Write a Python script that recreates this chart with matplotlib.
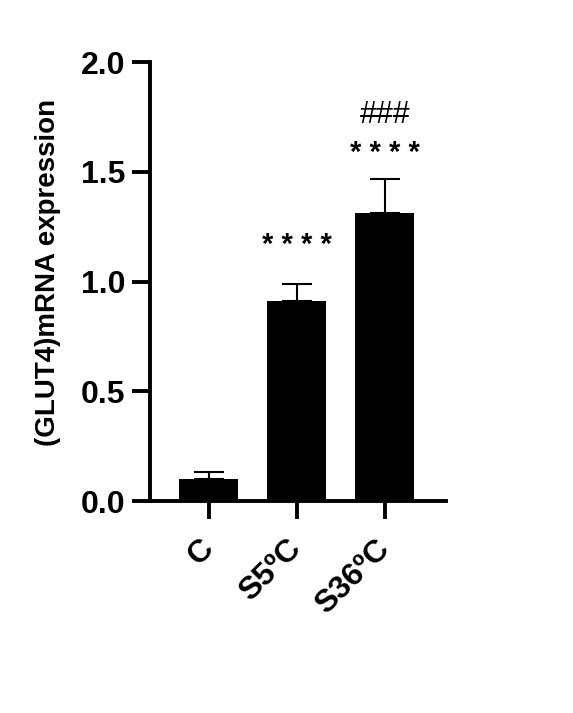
import numpy as np
import matplotlib
matplotlib.use("Agg")
import matplotlib.pyplot as plt

plt.rcParams["font.family"] = ["Liberation Sans", "DejaVu Sans"]

groups = ["C", "S5ºC", "S36ºC"]
means = [0.10, 0.91, 1.31]
errs = [0.03, 0.08, 0.155]
stars = ["", "* * * *", "* * * *"]
star_y = [0.0, 1.21, 1.63]
hashes = ["", "", "###"]
hash_y = [0.0, 0.0, 1.76]

fig = plt.figure(figsize=(5.73, 7.13), dpi=100)
ax = fig.add_axes([0.2618, 0.2973, 0.5160, 0.6157])

x = np.arange(len(groups))
ax.bar(x, means, width=0.67, color="black", zorder=2)
ax.errorbar(x, means, yerr=[np.zeros(len(errs)), errs], fmt="none",
            ecolor="black", elinewidth=1.5, capsize=10.5, capthick=1.5, zorder=1)

for i in range(len(groups)):
    if stars[i]:
        # asterisks sit high in the em box, so nudge the anchor down
        ax.text(x[i], star_y[i] - 0.045, stars[i], ha="center", va="center",
                fontsize=21, fontweight="bold")
    if hashes[i]:
        ax.text(x[i], hash_y[i], hashes[i], ha="center", va="center", fontsize=22)

ax.set_xlim(-0.67, 2.69)
ax.set_ylim(0, 2.0)
ax.set_yticks([0.0, 0.5, 1.0, 1.5, 2.0])
ax.set_yticklabels(["0.0", "0.5", "1.0", "1.5", "2.0"])
ax.set_xticks(x)
ax.set_xticklabels(groups, rotation=45, ha="right", va="center", rotation_mode="anchor")

for lab in ax.get_xticklabels() + ax.get_yticklabels():
    lab.set_fontweight("bold")
    lab.set_fontsize(23)

ax.spines["top"].set_visible(False)
ax.spines["right"].set_visible(False)
ax.spines["left"].set_linewidth(2.8)
ax.spines["bottom"].set_linewidth(2.8)
ax.tick_params(axis="both", width=2.8, length=13, color="black")
ax.tick_params(axis="x", pad=18)
ax.tick_params(axis="y", pad=5)

ax.set_ylabel("(GLUT4)mRNA expression", fontsize=20, fontweight="bold")
ax.yaxis.set_label_coords(-0.30, 0.52)

fig.savefig("out.png", dpi=100)
